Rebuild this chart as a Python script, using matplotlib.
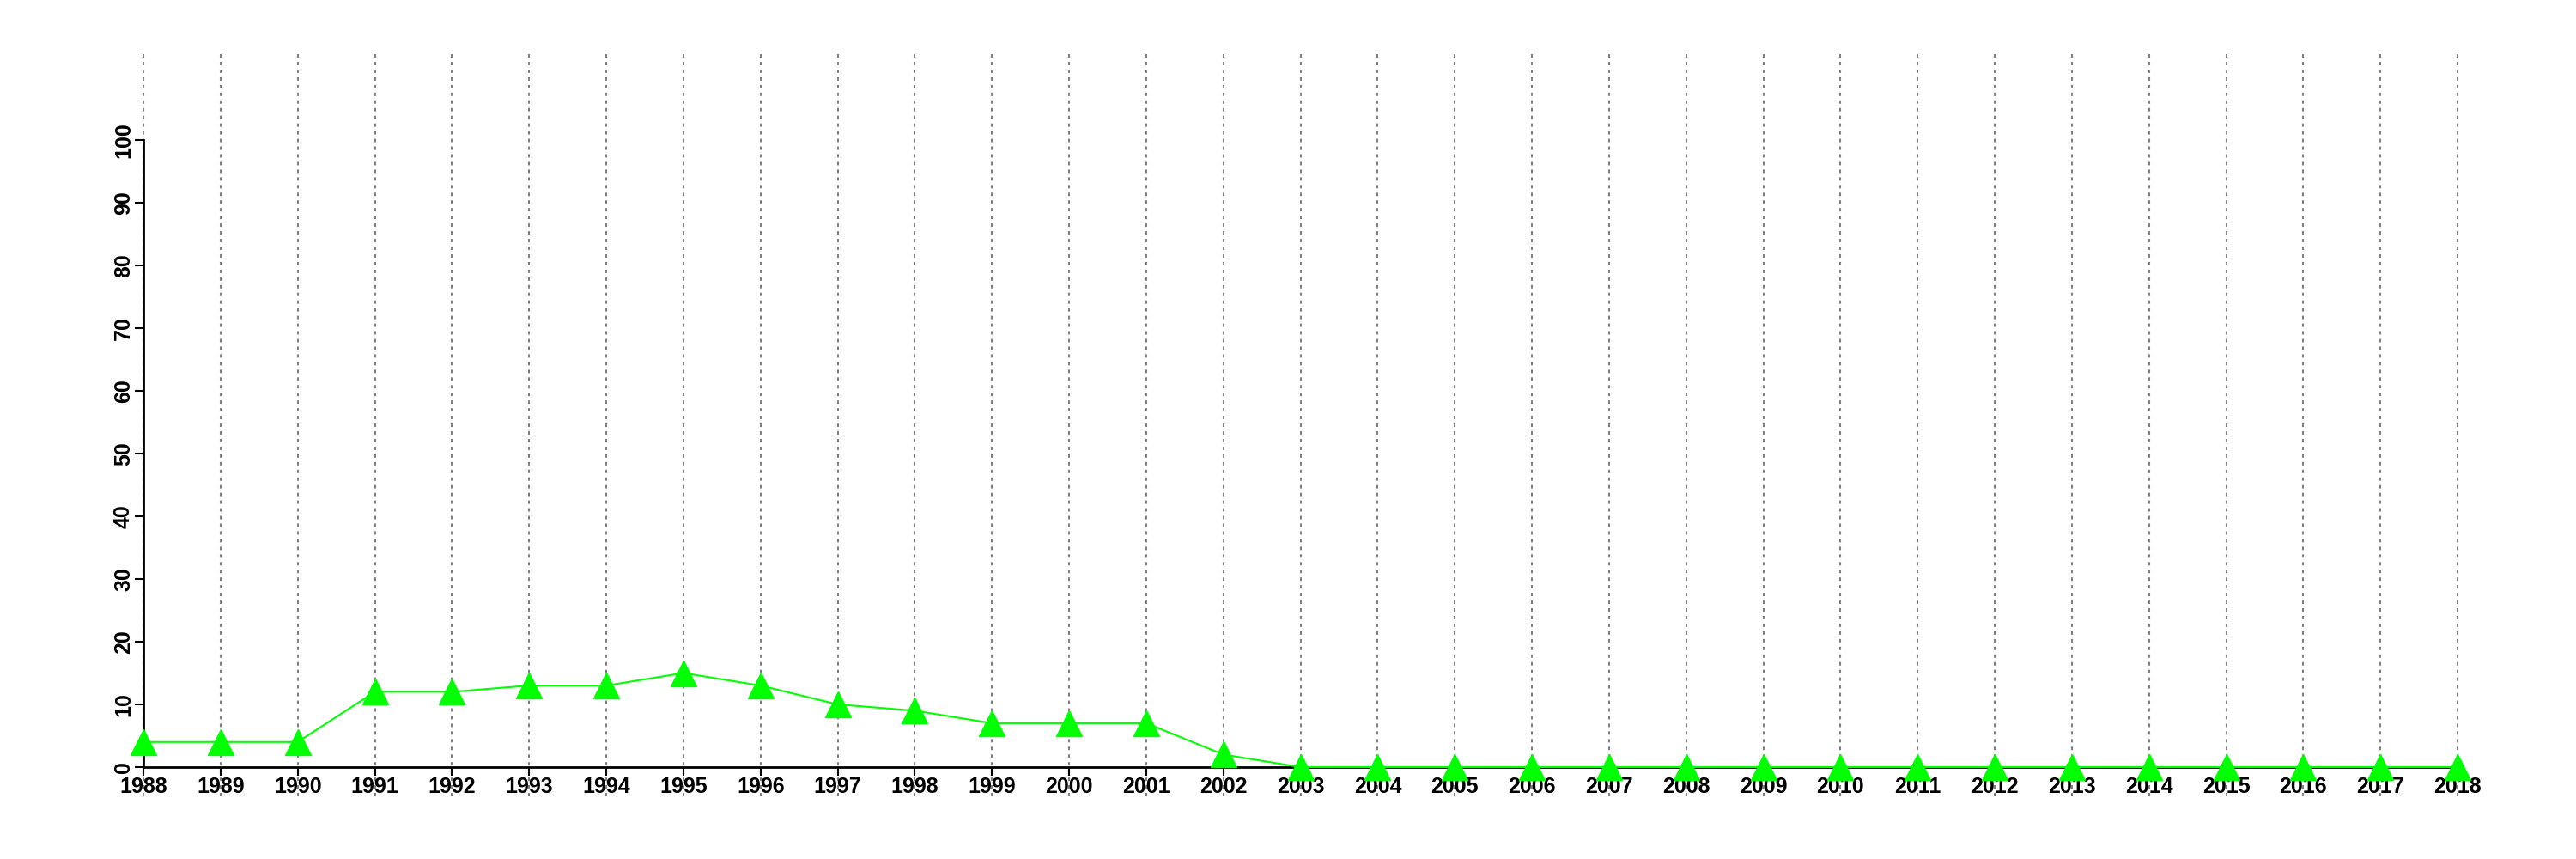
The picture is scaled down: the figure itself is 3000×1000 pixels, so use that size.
import numpy as np
import matplotlib
matplotlib.use("Agg")
import matplotlib.pyplot as plt

plt.rcParams['font.family'] = ['Liberation Sans', 'DejaVu Sans']
plt.rcParams['font.weight'] = 'bold'

years = list(range(1988, 2019))
values = [4, 4, 4, 12, 12, 13, 13, 15, 13, 10, 9, 7, 7, 7, 2,
          0, 0, 0, 0, 0, 0, 0, 0, 0, 0, 0, 0, 0, 0, 0, 0]
yticks = list(range(0, 101, 10))

fig = plt.figure(figsize=(30, 10), dpi=100)
ax = fig.add_axes([0.0557, 0.107, 0.954 - 0.0557, 0.837 - 0.107])

# dotted verticals reaching past the plot box
for yr in years:
    ax.axvline(yr, ymin=-0.047, ymax=1.142, color='#808080', lw=1.5,
               linestyle=(0, (1.9, 2.4)), clip_on=False, zorder=1)

ax.plot(years, values, color='#00ff00', lw=1.5, marker='^', markersize=21,
        clip_on=False, zorder=3)

ax.set_xlim(1988, 2018)
ax.set_ylim(0, 100)
ax.set_xticks(years)
ax.set_xticklabels([str(y) for y in years], fontsize=18, fontweight='bold')
ax.set_yticks(yticks)
ax.set_yticklabels([str(v) for v in yticks], fontsize=18, fontweight='bold',
                   rotation=90, va='center')
ax.tick_params(axis='both', length=7, width=1.5, pad=1)

ax.spines['top'].set_visible(False)
ax.spines['right'].set_visible(False)
ax.spines['left'].set_linewidth(2)
ax.spines['bottom'].set_linewidth(2)
ax.spines['left'].set_bounds(0, 100)
ax.spines['left'].set_zorder(2)
ax.spines['bottom'].set_zorder(2)

fig.savefig("out.png", dpi=100)
